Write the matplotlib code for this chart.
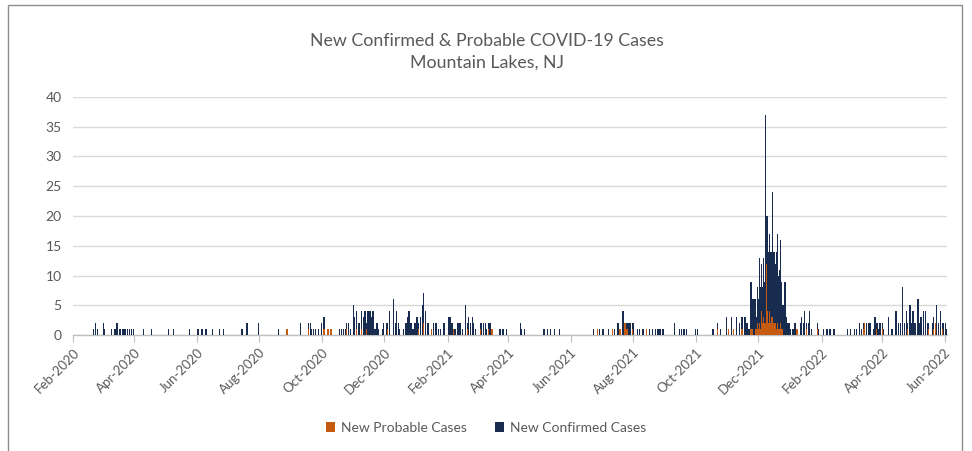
import numpy as np
import pandas as pd
import matplotlib
matplotlib.use("Agg")
import matplotlib.pyplot as plt
import matplotlib.dates as mdates
from matplotlib.patches import Rectangle

plt.rcParams["font.family"] = ["Lato", "DejaVu Sans"]

# %% Data (only days with cases)
dates = [
    "2020-02-21", "2020-02-23", "2020-02-25", "2020-03-02", "2020-03-03", "2020-03-10",
    "2020-03-13", "2020-03-15", "2020-03-18", "2020-03-21", "2020-03-23", "2020-03-25",
    "2020-03-27", "2020-03-29", "2020-03-31", "2020-04-10", "2020-04-18", "2020-05-04",
    "2020-05-09", "2020-05-25", "2020-06-02", "2020-06-06", "2020-06-10", "2020-06-16",
    "2020-06-23", "2020-06-27", "2020-07-15", "2020-07-20", "2020-07-31", "2020-08-20",
    "2020-08-28", "2020-09-10", "2020-09-18", "2020-09-20", "2020-09-21", "2020-09-23",
    "2020-09-25", "2020-09-28", "2020-10-01", "2020-10-03", "2020-10-07", "2020-10-10",
    "2020-10-18", "2020-10-20", "2020-10-22", "2020-10-24", "2020-10-25", "2020-10-27",
    "2020-10-29", "2020-11-01", "2020-11-02", "2020-11-04", "2020-11-06", "2020-11-07",
    "2020-11-09", "2020-11-11", "2020-11-12", "2020-11-14", "2020-11-15", "2020-11-17",
    "2020-11-19", "2020-11-20", "2020-11-22", "2020-11-24", "2020-11-25", "2020-11-29",
    "2020-11-30", "2020-12-03", "2020-12-04", "2020-12-06", "2020-12-10", "2020-12-12",
    "2020-12-13", "2020-12-15", "2020-12-16", "2020-12-20", "2020-12-22", "2020-12-24",
    "2020-12-25", "2020-12-27", "2020-12-29", "2020-12-31",
    "2021-01-02", "2021-01-03", "2021-01-05", "2021-01-07", "2021-01-08", "2021-01-10",
    "2021-01-12", "2021-01-13", "2021-01-16", "2021-01-18", "2021-01-20", "2021-01-21",
    "2021-01-23", "2021-01-25", "2021-01-28", "2021-01-29", "2021-02-02", "2021-02-03",
    "2021-02-05", "2021-02-07", "2021-02-08", "2021-02-11", "2021-02-13", "2021-02-15",
    "2021-02-18", "2021-02-20", "2021-02-21", "2021-02-23", "2021-02-25", "2021-02-26",
    "2021-02-28", "2021-03-05", "2021-03-06", "2021-03-08", "2021-03-10", "2021-03-11",
    "2021-03-13", "2021-03-14", "2021-03-16", "2021-03-24", "2021-03-27", "2021-03-30",
    "2021-04-13", "2021-04-14", "2021-04-17", "2021-05-06", "2021-05-09", "2021-05-12",
    "2021-05-16", "2021-05-21", "2021-06-23", "2021-06-27", "2021-06-29", "2021-07-02",
    "2021-07-03", "2021-07-08", "2021-07-12", "2021-07-14", "2021-07-17", "2021-07-19",
    "2021-07-22", "2021-07-24", "2021-07-26", "2021-07-28", "2021-07-29", "2021-07-31",
    "2021-08-01", "2021-08-05", "2021-08-07", "2021-08-10", "2021-08-11", "2021-08-14",
    "2021-08-17", "2021-08-20", "2021-08-23", "2021-08-25", "2021-08-27", "2021-08-30",
    "2021-09-10", "2021-09-15", "2021-09-17", "2021-09-19", "2021-09-20", "2021-09-22",
    "2021-10-01", "2021-10-03", "2021-10-18", "2021-10-22", "2021-10-25", "2021-10-31",
    "2021-11-02", "2021-11-05", "2021-11-07", "2021-11-10", "2021-11-13", "2021-11-15",
    "2021-11-18", "2021-11-20", "2021-11-22", "2021-11-24", "2021-11-25", "2021-11-26",
    "2021-11-27", "2021-11-28", "2021-11-29", "2021-11-30", "2021-12-01", "2021-12-02",
    "2021-12-03", "2021-12-04", "2021-12-05", "2021-12-06", "2021-12-07", "2021-12-08",
    "2021-12-09", "2021-12-10", "2021-12-11", "2021-12-12", "2021-12-13", "2021-12-14",
    "2021-12-15", "2021-12-16", "2021-12-17", "2021-12-18", "2021-12-19", "2021-12-20",
    "2021-12-21", "2021-12-22", "2021-12-23", "2021-12-24", "2021-12-25", "2021-12-26",
    "2021-12-27", "2021-12-28", "2021-12-29", "2021-12-30", "2021-12-31",
    "2022-01-01", "2022-01-04", "2022-01-06", "2022-01-08", "2022-01-11", "2022-01-12",
    "2022-01-14", "2022-01-15", "2022-01-17", "2022-01-19", "2022-01-20", "2022-01-22",
    "2022-01-28", "2022-01-29", "2022-02-03", "2022-02-06", "2022-02-09", "2022-02-13",
    "2022-02-26", "2022-03-01", "2022-03-05", "2022-03-07", "2022-03-10", "2022-03-12",
    "2022-03-14", "2022-03-15", "2022-03-17", "2022-03-19", "2022-03-20", "2022-03-24",
    "2022-03-25", "2022-03-27", "2022-03-28", "2022-03-30", "2022-04-01", "2022-04-02",
    "2022-04-07", "2022-04-10", "2022-04-11", "2022-04-14", "2022-04-15", "2022-04-17",
    "2022-04-19", "2022-04-21", "2022-04-23", "2022-04-25", "2022-04-26", "2022-04-28",
    "2022-04-29", "2022-05-01", "2022-05-03", "2022-05-06", "2022-05-07", "2022-05-09",
    "2022-05-11", "2022-05-13", "2022-05-15", "2022-05-16", "2022-05-20", "2022-05-21",
    "2022-05-23", "2022-05-24", "2022-05-26", "2022-05-28", "2022-05-30", "2022-05-31",
    "2022-06-02", "2022-06-03",
]

confirmed = [
    1, 2, 1, 2, 1, 1,
    1, 2, 1, 1, 1, 1,
    1, 1, 1, 1, 1, 1,
    1, 1, 1, 1, 1, 1,
    1, 1, 1, 2, 2, 1,
    0, 2, 1, 2, 1, 1,
    1, 1, 2, 2, 0, 0,
    1, 1, 1, 1, 1, 2,
    1, 5, 3, 3, 2, 2,
    3, 3, 4, 1, 4, 4,
    3, 4, 1, 2, 1, 1,
    2, 2, 1, 4, 6, 2,
    4, 2, 1, 1, 2, 3,
    4, 2, 1, 2,
    3, 1, 3, 5, 5, 4,
    2, 2, 0, 2, 2, 2,
    1, 1, 2, 2, 3, 3,
    2, 0, 1, 2, 2, 1,
    5, 1, 3, 2, 3, 2,
    1, 1, 2, 2, 2, 1,
    1, 2, 0, 1, 1, 1,
    2, 1, 1, 1, 1, 1,
    1, 1, 1, 0, 1, 1,
    1, 1, 0, 1, 2, 0,
    4, 0, 1, 2, 2, 1,
    2, 1, 1, 1, 1, 0,
    1, 1, 1, 1, 1, 1,
    2, 1, 1, 1, 1, 1,
    1, 1, 1, 1, 1, 3,
    0, 3, 0, 3, 2, 2,
    3, 2, 1, 8, 3, 5,
    5, 5, 2, 6, 5, 11,
    7, 8, 6, 10, 7, 35,
    8, 16, 12, 13, 12, 11,
    21, 12, 12, 10, 13, 15,
    9, 10, 14, 8, 4, 5,
    8, 3, 2, 1, 2,
    1, 1, 2, 0, 2, 3,
    2, 4, 1, 2, 4, 1,
    1, 1, 1, 1, 1, 1,
    1, 1, 1, 1, 2, 1,
    1, 0, 2, 2, 2, 1,
    3, 1, 1, 2, 1, 1,
    3, 1, 1, 4, 4, 2,
    2, 8, 2, 4, 1, 5,
    2, 4, 2, 6, 2, 3,
    4, 4, 2, 1, 2, 2,
    0, 5, 2, 4, 1, 2,
    2, 1,
]

probable = [
    0, 0, 0, 0, 0, 0,
    0, 0, 0, 0, 0, 0,
    0, 0, 0, 0, 0, 0,
    0, 0, 0, 0, 0, 0,
    0, 0, 0, 0, 0, 0,
    1, 0, 1, 0, 0, 0,
    0, 0, 0, 1, 1, 1,
    0, 0, 0, 0, 1, 0,
    0, 0, 0, 1, 0, 0,
    1, 0, 0, 1, 0, 0,
    0, 0, 0, 0, 0, 0,
    0, 0, 1, 0, 0, 0,
    0, 0, 0, 0, 0, 0,
    0, 0, 0, 0,
    0, 1, 0, 0, 2, 0,
    0, 0, 1, 0, 0, 0,
    0, 0, 0, 0, 0, 0,
    0, 1, 0, 0, 0, 0,
    0, 1, 0, 0, 0, 0,
    0, 1, 0, 0, 0, 0,
    1, 0, 1, 0, 0, 0,
    0, 0, 0, 0, 0, 0,
    0, 0, 0, 1, 0, 0,
    0, 0, 1, 0, 0, 1,
    0, 2, 1, 0, 0, 1,
    0, 0, 0, 0, 0, 1,
    0, 0, 0, 0, 0, 0,
    0, 0, 0, 0, 0, 0,
    0, 0, 0, 1, 0, 0,
    1, 0, 1, 0, 0, 1,
    0, 0, 0, 1, 1, 1,
    0, 1, 1, 2, 1, 2,
    1, 4, 2, 3, 2, 2,
    12, 4, 2, 4, 2, 3,
    3, 2, 2, 2, 1, 2,
    1, 1, 2, 1, 1, 0,
    1, 0, 0, 0, 0,
    0, 0, 0, 1, 0, 0,
    0, 0, 1, 0, 0, 0,
    1, 0, 0, 0, 0, 0,
    0, 0, 0, 0, 0, 0,
    1, 2, 0, 0, 0, 0,
    0, 1, 0, 0, 1, 0,
    0, 0, 0, 0, 0, 0,
    0, 0, 0, 0, 1, 0,
    0, 0, 0, 0, 0, 0,
    0, 0, 0, 1, 0, 1,
    2, 0, 0, 0, 1, 0,
    0, 0,
]

title_text = "New Confirmed & Probable COVID-19 Cases\nMountain Lakes, NJ"
probable_label = "New Probable Cases"
confirmed_label = "New Confirmed Cases"

# %% Plot
df = pd.DataFrame({
    "date": pd.to_datetime(dates),
    "confirmed": confirmed,
    "probable": probable,
})

probable_color = "#c55a11"
confirmed_color = "#172c4e"
text_color = "#595959"

fig = plt.figure(figsize=(9.72, 4.51), dpi=100)
ax = fig.add_axes([0.075, 0.257, 0.899, 0.528])

bar_w = 1.3
ax.bar(df["date"], df["probable"], width=bar_w, color=probable_color,
       label=probable_label, zorder=3)
ax.bar(df["date"], df["confirmed"], width=bar_w, bottom=df["probable"],
       color=confirmed_color, label=confirmed_label, zorder=3)

ax.set_xlim(pd.Timestamp("2020-02-01"), pd.Timestamp("2022-06-03"))
ax.set_ylim(0, 40)
ax.set_yticks(np.arange(0, 41, 5))
ax.yaxis.grid(True, color="#d9d9d9", linewidth=1.0, zorder=0)
ax.set_axisbelow(True)

ax.xaxis.set_major_locator(mdates.MonthLocator(bymonth=[2, 4, 6, 8, 10, 12]))
ax.xaxis.set_major_formatter(mdates.DateFormatter("%b-%Y"))

for side in ["top", "right", "left"]:
    ax.spines[side].set_visible(False)
ax.spines["bottom"].set_color("#bfbfbf")
ax.spines["bottom"].set_linewidth(1.0)

ax.tick_params(axis="y", length=0, labelsize=10, labelcolor=text_color, pad=8)
ax.tick_params(axis="x", length=5, color="#bfbfbf", labelsize=9.5,
               labelcolor=text_color, pad=3)
for lbl in ax.get_xticklabels():
    lbl.set_rotation(45)
    lbl.set_ha("right")
    lbl.set_rotation_mode("anchor")

fig.text(0.501, 0.885, title_text, ha="center", va="center",
         fontsize=12.8, color=text_color, linespacing=1.5)

fig.legend(loc="center", bbox_to_anchor=(0.5, 0.052), ncol=2, frameon=False,
           fontsize=10, handlelength=0.7, handleheight=0.7, handletextpad=0.4,
           columnspacing=2.0, labelcolor=text_color)

fig.patches.append(Rectangle((8 / 972, -0.02), 954 / 972, 1.02 - 5 / 451,
                             transform=fig.transFigure, fill=False,
                             edgecolor="#8c8c8c", linewidth=1.0))

fig.savefig("out.png", dpi=100)
